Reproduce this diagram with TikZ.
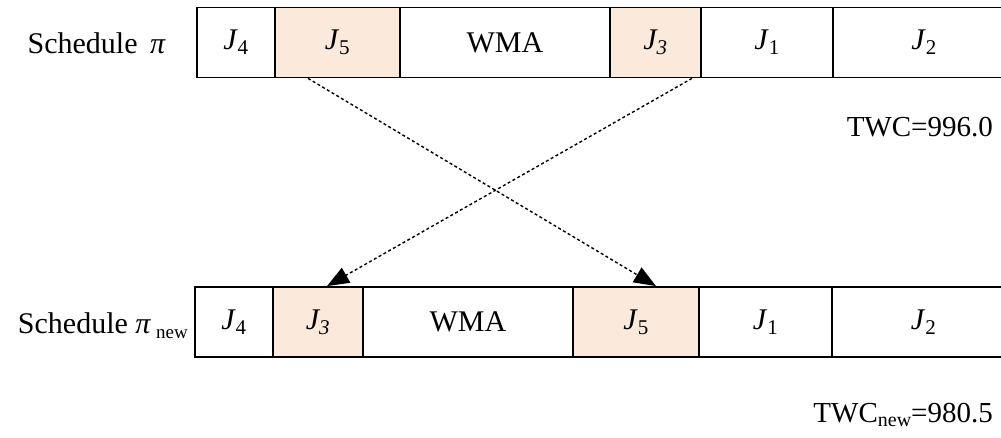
\documentclass[tikz,border=0pt]{standalone}
\usepackage{fontspec}
\setmainfont{Liberation Serif}
\usetikzlibrary{positioning,arrows.meta}
\definecolor{swapfill}{RGB}{251,233,219}

\begin{document}
\begin{tikzpicture}[x=1pt, y=-1pt,
			font=\fontsize{30}{34}\selectfont,
			job/.style={rectangle, draw=black, line width=1.8pt, minimum height=70pt, inner sep=0pt},
			swap/.style={job, fill=swapfill},
			move/.style={line width=1.4pt, dash pattern=on 3pt off 2.5pt, -{Triangle[length=22pt,width=17pt]}},
			cost/.style={anchor=base east, inner sep=0pt, font=\fontsize{29}{33}\selectfont},
			]
			\useasboundingbox (0,0) rectangle (1001,437);
			%Nodes
				\node[anchor=base east, inner sep=0pt]	(old-label)	at (166,53)		{Schedule~\,\textit{π}};
				\node[job, minimum width=78pt]		(old-J4)		at (236,42.5)		{\textit{J}\textsubscript{4}};
				\node[swap, minimum width=125pt]	(old-J5)		at (337.5,42.5)	{\textit{J}\textsubscript{5}};
				\node[job, minimum width=210pt]		(old-WMA)	at (505,42.5)		{WMA};
				\node[swap, minimum width=91pt]		(old-J3)		at (655.5,42.5)	{\textit{J\textsubscript{3}}};
				\node[job, minimum width=132pt]		(old-J1)		at (767,42.5)		{\textit{J}\textsubscript{1}};
				\node[job, minimum width=182pt]		(old-J2)		at (924,42.5)		{\textit{J}\textsubscript{2}\hspace{28pt}};
				\node[cost]		(old-cost)	at (993,136)		{TWC=996.0};

				\node[anchor=base east, inner sep=0pt]	(new-label)	at (188,333)	{Schedule \textit{π}\,\raisebox{-5pt}{\fontsize{19}{21}\selectfont new}};
				\node[job, minimum width=78pt]		(new-J4)		at (234,322)		{\textit{J}\textsubscript{4}};
				\node[swap, minimum width=90pt]		(new-J3)		at (318,322)		{\textit{J\textsubscript{3}}};
				\node[job, minimum width=210pt]		(new-WMA)	at (468,322)		{WMA};
				\node[swap, minimum width=126pt]	(new-J5)		at (636,322)		{\textit{J}\textsubscript{5}};
				\node[job, minimum width=133pt]		(new-J1)		at (765.5,322)	{\textit{J}\textsubscript{1}};
				\node[job, minimum width=183pt]		(new-J2)		at (923.5,322)	{\textit{J}\textsubscript{2}\hspace{28pt}};
				\node[cost]		(new-cost)	at (993,422)		{TWC\raisebox{-4pt}{\fontsize{20}{22}\selectfont new}=980.5};

			%Lines
				\draw[move] ([xshift=-29.5pt]old-J5.south) -- ([xshift=20pt]new-J5.north);
				\draw[move] ([xshift=36.5pt]old-J3.south) -- ([xshift=9pt]new-J3.north);
		\end{tikzpicture}
\end{document}
